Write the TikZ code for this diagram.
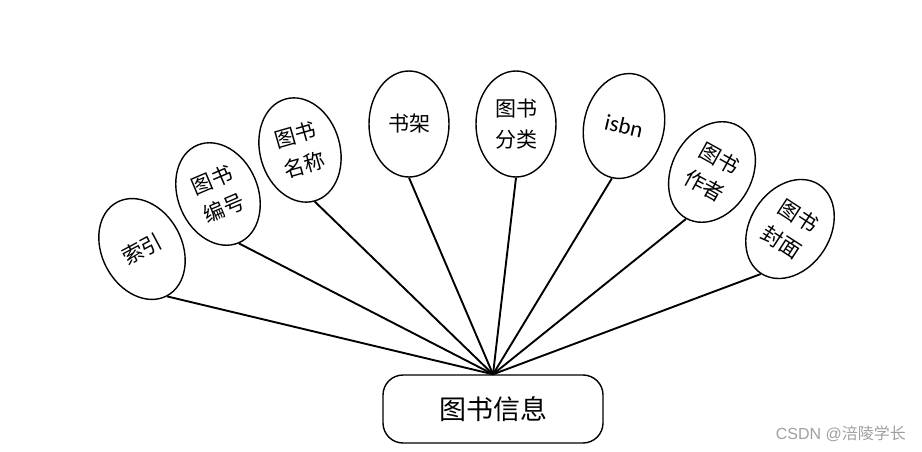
\documentclass[tikz,border=0pt]{standalone}
\usepackage{fontspec}
\newfontfamily\cjk{Noto Sans CJK SC}
\newfontfamily\lat{Carlito}
\newfontfamily\wmfont{Liberation Sans}
\usetikzlibrary{shapes.geometric}
\begin{document}
\begin{tikzpicture}[x=1pt,y=-1pt,
  attr/.style={ellipse,draw,line width=1.4pt,minimum width=80pt,minimum height=106pt,inner sep=0pt,align=center,font=\cjk\fontsize{21}{31}\selectfont},
  ent/.style={rectangle,rounded corners=20pt,draw,line width=1.4pt,minimum width=220pt,minimum height=68pt,font=\cjk\fontsize{27}{32}\selectfont},
  link/.style={line width=1.9pt}]
\useasboundingbox (0,0) rectangle (922,452);
\node[ent] (root) at (493,409) {图书信息};
\node[attr,rotate=28] (a1) at (142,249) {索引};
\node[attr,rotate=23] (a2) at (218,194) {图书\\编号};
\node[attr,rotate=16] (a3) at (300,150) {图书\\名称};
\node[attr] (a4) at (409,124) {书架};
\node[attr] (a5) at (516,124) {图书\\分类};
\node[attr,rotate=-13,font=\lat\fontsize{23}{26}\selectfont] (a6) at (624,126) {isbn};
\node[attr,rotate=-29] (a7) at (712,172) {图书\\作者};
\node[attr,rotate=-33] (a8) at (790,229) {图书\\封面};
\foreach \i in {1,...,8} \draw[link] (root.north) -- (a\i.south);
\node[text=gray!75,font=\wmfont\fontsize{16}{19}\selectfont,anchor=east,inner sep=0pt] (wm) at (906,434) {CSDN @{\cjk 涪陵学长}};
\end{tikzpicture}
\end{document}
